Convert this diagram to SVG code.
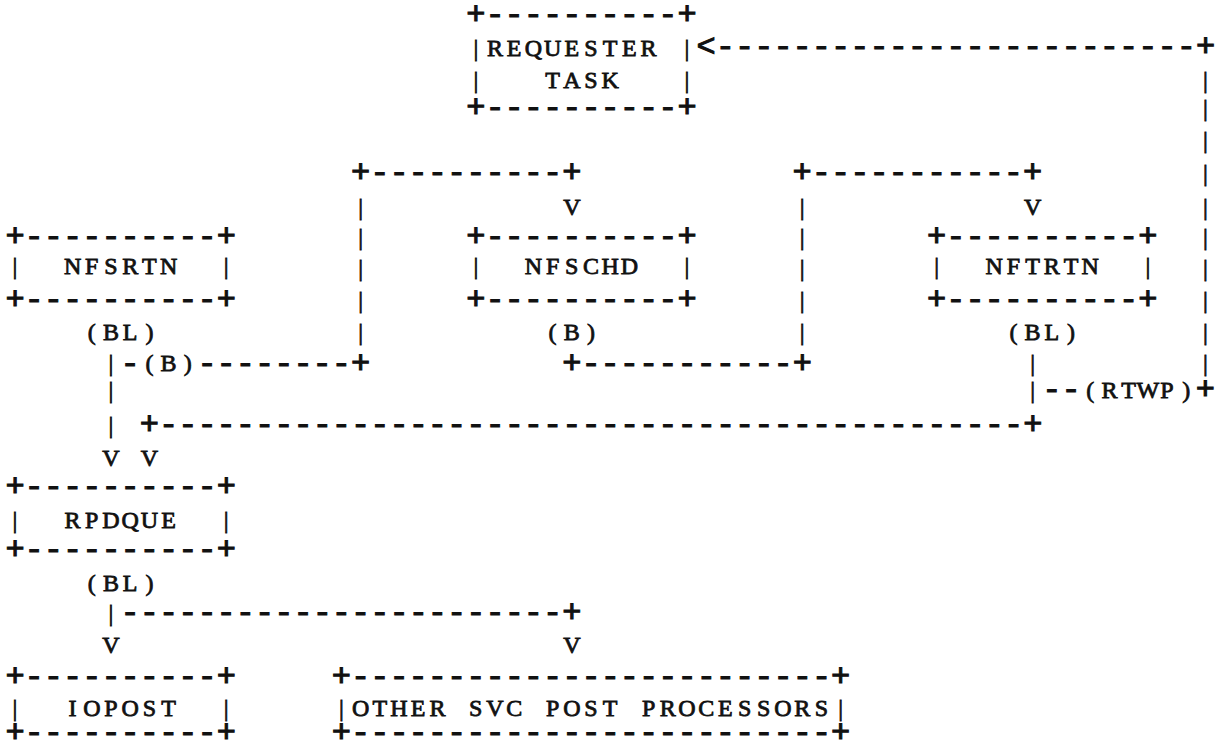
<svg xmlns="http://www.w3.org/2000/svg" width="1224" height="750" viewBox="0 0 1224 750">
<style>
text { fill: #111; stroke: #111; }
.m { font-family: "Liberation Mono", "Courier New", monospace; font-size: 32px; stroke-width: 1.1; white-space: pre; }
.s { font-family: "Liberation Serif", "Times New Roman", serif; font-size: 24px; stroke-width: 0.8; text-anchor: middle; }
</style>
<rect x="0" y="0" width="1224" height="750" fill="#fff"/>
<g id="requester-task">
<text class="m" x="466.2" y="24">+----------+</text>
<text class="s" x="475.8 495 514.2 533.4 552.6 571.8 591 610.2 629.4 648.6 687" y="56">|REQUESTER|</text>
<text class="s" x="475.8 552.6 571.8 591 610.2 687" y="88">|TASK|</text>
<text class="m" x="466.2" y="116.5">+----------+</text>
</g>
<g id="nfsrtn">
<text class="m" x="5.4" y="245.5">+----------+</text>
<text class="s" x="15 72.6 91.8 111 130.2 149.4 168.6 226.2" y="274">|NFSRTN|</text>
<text class="m" x="5.4" y="308.5">+----------+</text>
</g>
<g id="nfschd">
<text class="m" x="466.2" y="245.5">+----------+</text>
<text class="s" x="475.8 533.4 552.6 571.8 591 610.2 629.4 687" y="274">|NFSCHD|</text>
<text class="m" x="466.2" y="308.5">+----------+</text>
</g>
<g id="nftrtn">
<text class="m" x="927" y="245.5">+----------+</text>
<text class="s" x="936.6 994.2 1013.4 1032.6 1051.8 1071 1090.2 1147.8" y="274">|NFTRTN|</text>
<text class="m" x="927" y="308.5">+----------+</text>
</g>
<g id="rpdque">
<text class="m" x="5.4" y="496">+----------+</text>
<text class="s" x="15 72.6 91.8 111 130.2 149.4 168.6 226.2" y="528">|RPDQUE|</text>
<text class="m" x="5.4" y="558.5">+----------+</text>
</g>
<g id="iopost">
<text class="m" x="5.4" y="685.5">+----------+</text>
<text class="s" x="15 72.6 91.8 111 130.2 149.4 168.6 226.2" y="716">|IOPOST|</text>
<text class="m" x="5.4" y="741.5">+----------+</text>
</g>
<g id="other-svc-post-processors">
<text class="m" x="331.8" y="685.5">+-------------------------+</text>
<text class="s" x="341.4 360.6 379.8 399 418.2 437.4 456.6 475.8 495 514.2 533.4 552.6 571.8 591 610.2 629.4 648.6 667.8 687 706.2 725.4 744.6 763.8 783 802.2 821.4 840.6" y="716">|OTHER SVC POST PROCESSORS|</text>
<text class="m" x="331.8" y="741.5">+-------------------------+</text>
</g>
<g id="connectors">
<text class="m" x="696.6" y="55.5">&lt;-------------------------+</text>
<text class="s" x="1205.4" y="88">|</text>
<text class="s" x="1205.4" y="116">|</text>
<text class="s" x="1205.4" y="148">|</text>
<text class="m" x="351" y="181.5">+----------+</text>
<text class="m" x="792.6" y="181.5">+-----------+</text>
<text class="s" x="1205.4" y="181">|</text>
<text class="s" x="360.6 571.8 802.2 1032.6 1205.4" y="215">|V|V|</text>
<text class="s" x="360.6 802.2 1205.4" y="244.5">|||</text>
<text class="s" x="360.6 802.2 1205.4" y="276">|||</text>
<text class="s" x="360.6 802.2 1205.4" y="307.5">|||</text>
<text class="s" x="91.8 111 130.2 149.4" y="340">(BL)</text>
<text class="s" x="360.6" y="340">|</text>
<text class="s" x="552.6 571.8 591" y="340">(B)</text>
<text class="s" x="802.2" y="340">|</text>
<text class="s" x="1013.4 1032.6 1051.8 1071" y="340">(BL)</text>
<text class="s" x="1205.4" y="340">|</text>
<text class="s" x="111" y="371">|</text>
<text class="m" x="120.6" y="372.5">-</text>
<text class="s" x="149.4 168.6 187.8" y="371">(B)</text>
<text class="m" x="197.4" y="372.5">--------+</text>
<text class="m" x="562.2" y="372.5">+-----------+</text>
<text class="s" x="1032.6 1205.4" y="371">||</text>
<text class="s" x="111 1032.6" y="398">||</text>
<text class="m" x="1042.2" y="398.5">--</text>
<text class="s" x="1090.2 1109.4 1128.6 1147.8 1167 1186.2" y="398">(RTWP)</text>
<text class="m" x="1195.8" y="398.5">+</text>
<text class="s" x="111" y="432.5">|</text>
<text class="m" x="139.8" y="433.5">+---------------------------------------------+</text>
<text class="s" x="111 149.4" y="466">VV</text>
<text class="s" x="91.8 111 130.2 149.4" y="591">(BL)</text>
<text class="s" x="111" y="621">|</text>
<text class="m" x="120.6" y="621.5">-----------------------+</text>
<text class="s" x="111 571.8" y="653">VV</text>
</g>
</svg>
